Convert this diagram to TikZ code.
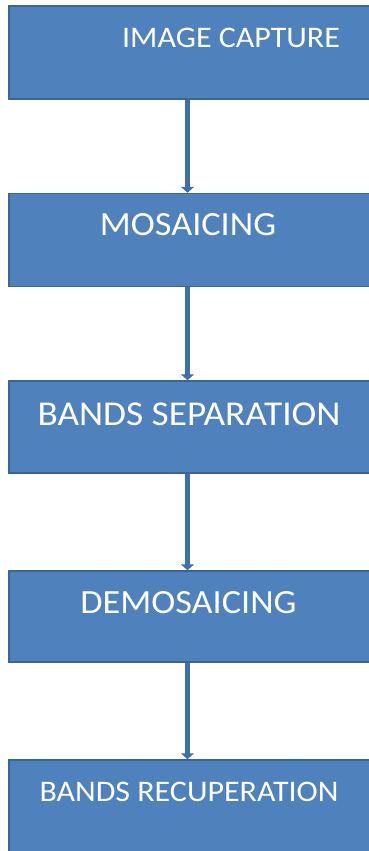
\documentclass[tikz,border=0pt]{standalone}
\usepackage{fontspec}
\setmainfont{Carlito}[FakeStretch=1.07]
\usetikzlibrary{arrows.meta}
\definecolor{boxfill}{HTML}{4F81BD}
\definecolor{boxline}{HTML}{3A6594}
\definecolor{arrowcol}{HTML}{3F6FA8}
\begin{document}
\begin{tikzpicture}[x=1bp,y=-1bp,
  flowbox/.style={draw=boxline, line width=1.5bp, fill=boxfill, rectangle, inner sep=0pt, minimum width=363bp},
  biglabel/.style={text=white, inner sep=0pt, anchor=base, font=\fontsize{34}{40}\selectfont},
  smalllabel/.style={text=white, inner sep=0pt, anchor=base, font=\fontsize{30}{36}\selectfont},
  flowarrow/.style={draw=arrowcol, line width=4.5bp, -{Triangle[width=13bp,length=6bp]}, shorten >=0pt}]
\useasboundingbox (0,0) rectangle (368,851);
\node[flowbox, minimum height=93bp] (b1) at (190.5,52.5) {};
\node[flowbox, minimum height=93bp] (b2) at (190.5,240) {};
\node[flowbox, minimum height=92bp] (b3) at (190.5,427) {};
\node[flowbox, minimum height=91bp] (b4) at (190.5,616.5) {};
\node[flowbox, minimum height=93bp] (b5) at (190.5,806.5) {};
\node[smalllabel] (t1) at (231,47.3) {IMAGE CAPTURE};
\node[biglabel] (t2) at (188,235) {MOSAICING};
\node[biglabel, font=\fontsize{35}{41}\selectfont] (t3) at (189,425) {BANDS SEPARATION};
\node[biglabel] (t4) at (188.5,613.3) {DEMOSAICING};
\node[smalllabel] (t5) at (189,801.7) {BANDS RECUPERATION};
\draw[flowarrow] ([xshift=-3bp]b1.south) -- ([xshift=-3bp]b2.north);
\draw[flowarrow] ([xshift=-3bp]b2.south) -- ([xshift=-3bp]b3.north);
\draw[flowarrow] ([xshift=-3bp]b3.south) -- ([xshift=-3bp]b4.north);
\draw[flowarrow] ([xshift=-3bp]b4.south) -- ([xshift=-3bp]b5.north);
\end{tikzpicture}
\end{document}
